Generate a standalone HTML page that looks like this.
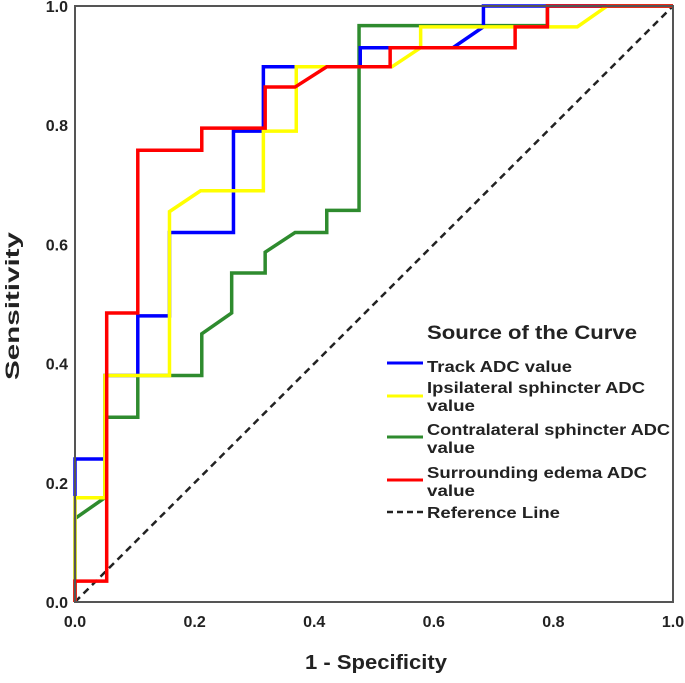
<!DOCTYPE html>
<html><head><meta charset="utf-8"><style>
body{margin:0;background:#fff;}
svg text{font-family:"Liberation Sans",Arial,sans-serif;font-weight:bold;}
</style></head><body>
<svg width="685" height="678" viewBox="0 0 685 678" xmlns="http://www.w3.org/2000/svg">
<g id="curves"></g>
<rect x="75" y="6" width="598" height="596" fill="none" stroke="#555" stroke-width="2"/>
<g id="ticks"></g>
<text x="305" y="669" font-size="20" textLength="142" lengthAdjust="spacingAndGlyphs" fill="#222">1 - Specificity</text>
<text transform="translate(19,380) rotate(-90)" font-size="19" textLength="148" lengthAdjust="spacingAndGlyphs" fill="#222">Sensitivity</text>
<g>
<text x="427" y="339" font-size="19" textLength="210" lengthAdjust="spacingAndGlyphs" fill="#222">Source of the Curve</text>
<line x1="387" y1="363" x2="423" y2="363" stroke="#0000ff" stroke-width="3"/>
<text x="427" y="372" font-size="16" textLength="145" lengthAdjust="spacingAndGlyphs" fill="#222">Track ADC value</text>
<line x1="387" y1="396" x2="423" y2="396" stroke="#ffff00" stroke-width="3"/>
<text font-size="16" fill="#222"><tspan x="427" y="393" textLength="218" lengthAdjust="spacingAndGlyphs">Ipsilateral sphincter ADC</tspan><tspan x="427" y="411" textLength="48" lengthAdjust="spacingAndGlyphs">value</tspan></text>
<line x1="387" y1="437" x2="423" y2="437" stroke="#2e8b2e" stroke-width="3"/>
<text font-size="16" fill="#222"><tspan x="427" y="435" textLength="243" lengthAdjust="spacingAndGlyphs">Contralateral sphincter ADC</tspan><tspan x="427" y="453" textLength="48" lengthAdjust="spacingAndGlyphs">value</tspan></text>
<line x1="387" y1="480" x2="423" y2="480" stroke="#ff0000" stroke-width="3"/>
<text font-size="16" fill="#222"><tspan x="427" y="478" textLength="220" lengthAdjust="spacingAndGlyphs">Surrounding edema ADC</tspan><tspan x="427" y="496" textLength="48" lengthAdjust="spacingAndGlyphs">value</tspan></text>
<line x1="387" y1="512" x2="423" y2="512" stroke="#222" stroke-width="2.5" stroke-dasharray="6,4"/>
<text x="427" y="518" font-size="16" textLength="133" lengthAdjust="spacingAndGlyphs" fill="#222">Reference Line</text>
</g>
</svg>
<script>
const tickValues=[0,0.2,0.4,0.6,0.8,1.0];
const tickLabels=["0.0","0.2","0.4","0.6","0.8","1.0"];
const trackX=[0,0,0.05,0.05,0.105,0.105,0.158,0.158,0.265,0.265,0.315,0.315,0.477,0.477,0.632,0.683,0.683,1];
const trackY=[0,0.24,0.24,0.38,0.38,0.48,0.48,0.62,0.62,0.79,0.79,0.898,0.898,0.93,0.93,0.965,1,1];
const ipsiX=[0,0,0.05,0.05,0.158,0.158,0.21,0.315,0.315,0.37,0.37,0.53,0.578,0.578,0.84,0.89,1];
const ipsiY=[0,0.175,0.175,0.38,0.38,0.655,0.69,0.69,0.79,0.79,0.898,0.898,0.93,0.965,0.965,1,1];
const contraX=[0,0,0.05,0.05,0.105,0.105,0.212,0.212,0.262,0.262,0.318,0.318,0.368,0.421,0.421,0.475,0.475,0.79,0.79,1];
const contraY=[0,0.14,0.175,0.31,0.31,0.38,0.38,0.45,0.485,0.552,0.552,0.587,0.62,0.62,0.657,0.657,0.967,0.967,1,1];
const edemaX=[0,0,0.053,0.053,0.105,0.105,0.212,0.212,0.318,0.318,0.368,0.421,0.527,0.527,0.736,0.736,0.79,0.79,1];
const edemaY=[0,0.035,0.035,0.485,0.485,0.758,0.758,0.795,0.795,0.864,0.864,0.898,0.898,0.93,0.93,0.965,0.965,1,1];
const X0=75,X1=673,Y0=602,Y1=6;
function sx(v){return X0+v*(X1-X0);}
function sy(v){return Y0-v*(Y0-Y1);}
const NS="http://www.w3.org/2000/svg";
const g=document.getElementById('curves');
const ref=document.createElementNS(NS,'line');
ref.setAttribute('x1',sx(0));ref.setAttribute('y1',sy(0));ref.setAttribute('x2',sx(1));ref.setAttribute('y2',sy(1));
ref.setAttribute('stroke','#222');ref.setAttribute('stroke-width','2.5');ref.setAttribute('stroke-dasharray','7,5');


g.appendChild(ref);
function curve(xs,ys,color,name){
  const p=document.createElementNS(NS,'polyline');
  p.setAttribute('points',xs.map((x,i)=>sx(x)+','+sy(ys[i])).join(' '));
  p.setAttribute('fill','none');p.setAttribute('stroke',color);p.setAttribute('stroke-width','3.5');
  p.setAttribute('stroke-linejoin','miter');
  
  
  g.appendChild(p);
}
curve(contraX,contraY,'#2e8b2e','curve-contralateral');
curve(trackX,trackY,'#0000ff','curve-track');
curve(ipsiX,ipsiY,'#ffff00','curve-ipsilateral');
curve(edemaX,edemaY,'#ff0000','curve-edema');
const t=document.getElementById('ticks');
tickValues.forEach((v,i)=>{
  const a=document.createElementNS(NS,'text');
  a.setAttribute('x',68);a.setAttribute('y',sy(v)+6);a.setAttribute('text-anchor','end');a.setAttribute('font-size','16');a.setAttribute('fill','#222');
  a.textContent=tickLabels[i];
  
  
  t.appendChild(a);
  const b=document.createElementNS(NS,'text');
  b.setAttribute('x',sx(v));b.setAttribute('y',627);b.setAttribute('text-anchor','middle');b.setAttribute('font-size','16');b.setAttribute('fill','#222');
  b.textContent=tickLabels[i];
  
  
  t.appendChild(b);
});
</script>
</body></html>
